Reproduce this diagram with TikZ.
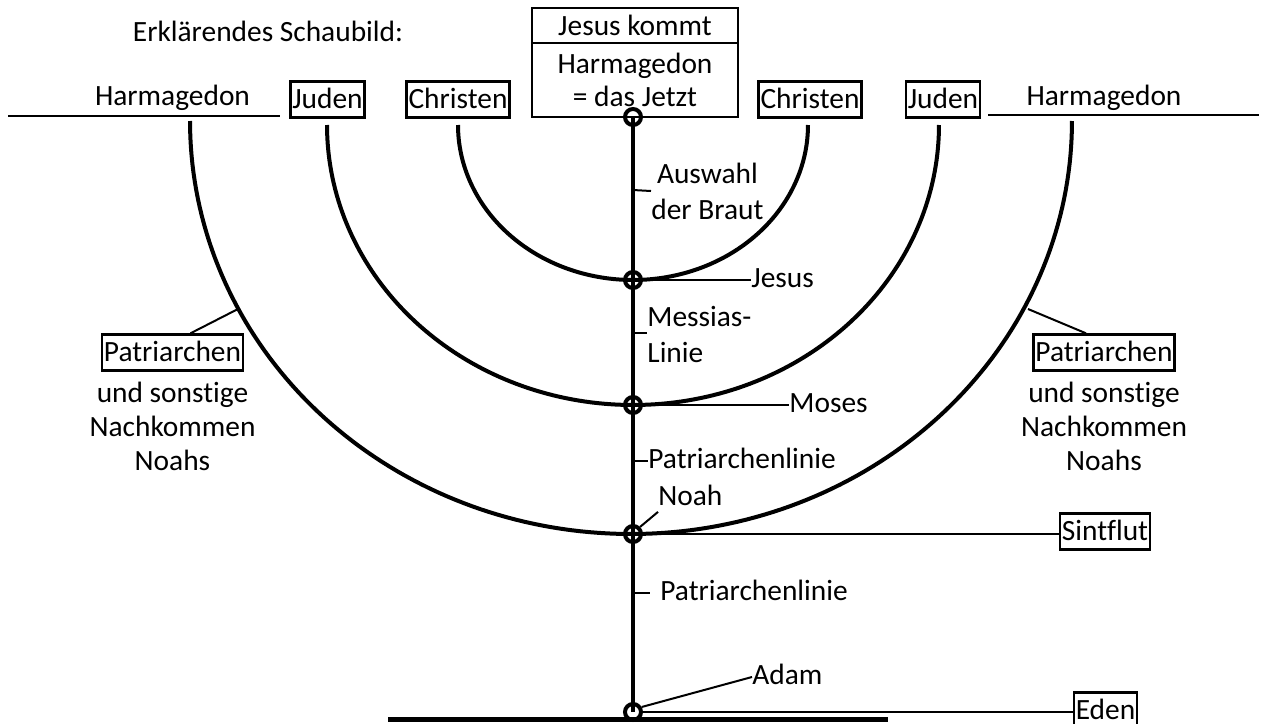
\documentclass[tikz,border=0pt]{standalone}
\usepackage{fontspec}
\setmainfont[Ligatures={NoCommon}]{Carlito}
\usetikzlibrary{calc}
\begin{document}
\begin{tikzpicture}[x=0.5pt,y=-0.5pt,
  every node/.style={font=\fontsize{14.7}{18}\selectfont, inner sep=0pt},
  lbl/.style={anchor=west, text height=10.5pt, text depth=3pt},
  boxed/.style={draw, line width=1.2pt, inner xsep=1pt, text height=13pt, text depth=4pt, inner ysep=0.5pt},
  dot/.style={circle, draw, line width=2pt, minimum size=8pt, inner sep=0pt},
  stem/.style={line width=2pt},
  arcl/.style={line width=2pt},
  thinl/.style={line width=1pt},
  ground/.style={line width=2.5pt}]
\useasboundingbox (0,0) rectangle (1266,724);

% title
\node (title) at (268,31) {Erklärendes Schaubild:};

% central box
\node[draw, line width=1.2pt, minimum width=103pt, minimum height=17.5pt] (jk) at (635,25.5) {Jesus kommt};
\node[draw, line width=1.2pt, minimum width=103pt, minimum height=37pt, align=center, font=\fontsize{14.7}{16.5}\selectfont] (hj) at (635,80) {Harmagedon\\= das Jetzt};

% top labels
\node[anchor=base] (harL) at (172.5,105) {Harmagedon};
\node[anchor=base] (harR) at (1104,105) {Harmagedon};
\node[boxed] (judL) at (327.5,99.5) {Juden};
\node[boxed] (chrL) at (458,99.5) {Christen};
\node[boxed] (chrR) at (810,99.5) {Christen};
\node[boxed] (judR) at (943,99.5) {Juden};

\coordinate (hlA) at (8,116);
\coordinate (hlB) at (280,116);
\coordinate (hrA) at (988,115);
\coordinate (hrB) at (1259,115);
\draw[thinl] (hlA) -- (hlB);
\draw[thinl] (hrA) -- (hrB);

% arcs
\draw[arcl] plot[domain=180:360, samples=150] ({633+175*cos(\x)},{125-155*sin(\x)});
\draw[arcl] plot[domain=180:360, samples=150] ({633+306*cos(\x)},{125-280*sin(\x)});
\draw[arcl] plot[domain=180:360, samples=150] ({631+441*cos(\x)},{121-413*sin(\x)});

% circles on the stem
\node[dot] (c0) at (633,117) {};
\node[dot] (c1) at (633,280) {};
\node[dot] (c2) at (633,405) {};
\node[dot] (c3) at (633,534) {};
\node[dot] (c4) at (633,712) {};
\draw[stem] (c0.center) -- (c4.center);

% ground line
\coordinate (gl) at (388,719);
\coordinate (gr) at (888,719);
\draw[ground] (gl) -- (gr);

% stem labels
\node[anchor=west, align=center] (aus) at (651,191) {Auswahl\\der Braut};
\coordinate (t1) at (633,190);
\draw[thinl] (t1) -- (aus.west);

\node[lbl] (lj) at (751,280) {Jesus};
\draw[thinl] (c1.east) -- (lj.west);

\node[anchor=west, align=left] (mes) at (647,334) {Messias-\\Linie};
\coordinate (t2) at (633,333);
\draw[thinl] (t2) -- (t2 -| mes.west);

\node[lbl] (lm) at (789,405) {Moses};
\draw[thinl] (c2.east) -- (lm.west);

\node[lbl] (pl1) at (648,461) {Patriarchenlinie};
\coordinate (t3) at (633,461);
\draw[thinl] (t3) -- (pl1.west);

\node[lbl] (ln) at (658,498) {Noah};
\draw[thinl] (c3.north east) -- (ln.south west);

\node[boxed] (sf) at (1105,531.5) {Sintflut};
\draw[thinl] (c3.east) -- (c3.east -| sf.west);

\node[lbl] (pl2) at (660,593) {Patriarchenlinie};
\coordinate (t4) at (633,593);
\coordinate (t4e) at (650,593);
\draw[thinl] (t4) -- (t4e);

\node[lbl] (la) at (752,677) {Adam};
\draw[thinl] (c4.30) -- (la.west);

\node[boxed] (ed) at (1105.5,710.5) {Eden};
\draw[thinl] (c4.east) -- (c4.east -| ed.west);

% Patriarchen blocks
\node[boxed] (pbL) at (172.5,352.5) {Patriarchen};
\node[align=center, font=\fontsize{14.7}{17}\selectfont] (pnL) at (172.5,426) {und sonstige\\Nachkommen\\Noahs};
\coordinate (paL) at (238,309);
\draw[thinl] (paL) -- ($(pbL.north)+(18,0)$);

\node[boxed] (pbR) at (1104,352.5) {Patriarchen};
\node[align=center, font=\fontsize{14.7}{17}\selectfont] (pnR) at (1104,426) {und sonstige\\Nachkommen\\Noahs};
\coordinate (paR) at (1028,309);
\draw[thinl] (paR) -- ($(pbR.north)+(-18,0)$);
\end{tikzpicture}
\end{document}
